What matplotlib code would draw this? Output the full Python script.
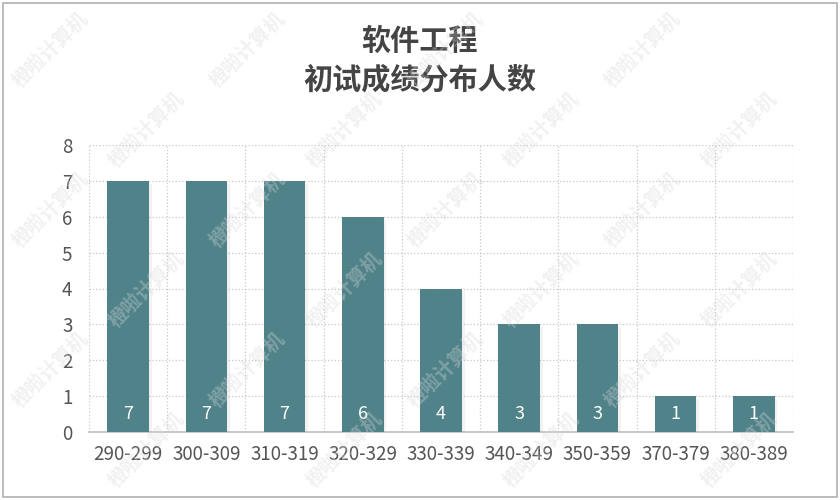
import matplotlib.pyplot as plt
from matplotlib.patches import Rectangle
import matplotlib.patheffects as pe

plt.rcParams['font.family'] = ['Noto Sans CJK SC', 'DejaVu Sans']

# 数据
categories = ['290-299', '300-309', '310-319', '320-329', '330-339',
              '340-349', '350-359', '370-379', '380-389']
counts = [7, 7, 7, 6, 4, 3, 3, 1, 1]
title_lines = ['软件工程', '初试成绩分布人数']
watermark = '橙啦计算机'

bar_color = '#508389'

fig = plt.figure(figsize=(8.4, 5), dpi=100)
ax = fig.add_axes([0.106, 0.136, 0.838, 0.574])

x = list(range(len(categories)))
bars = ax.bar(x, counts, width=0.53, color=bar_color, zorder=3,
              path_effects=[pe.SimplePatchShadow(offset=(2, -2), shadow_rgbFace='#aaaaaa', alpha=0.15),
                            pe.Normal()])

for xi, v in zip(x, counts):
    ax.text(xi, 0.5, str(v), ha='center', va='center', color='white',
            fontsize=13, zorder=4)

ax.set_xlim(-0.5, len(categories) - 0.5)
ax.set_ylim(0, 8)
ax.set_yticks(range(0, 9))
ax.set_xticks(x)
ax.set_xticklabels(categories)
ax.set_xticks([i + 0.5 for i in range(-1, len(categories))], minor=True)

ax.tick_params(axis='both', which='both', length=0, colors='#555555', labelsize=13.5)
ax.tick_params(axis='y', pad=12)
ax.tick_params(axis='x', pad=9)

ax.grid(axis='y', which='major', linestyle=':', color='#c8c8c8', linewidth=0.9, zorder=0)
ax.grid(axis='x', which='minor', linestyle=':', color='#c8c8c8', linewidth=0.9, zorder=0)

for s in ['top', 'right', 'left']:
    ax.spines[s].set_visible(False)
ax.spines['bottom'].set_color('#bfbfbf')
ax.spines['bottom'].set_linewidth(1.2)

fig.text(0.5, 0.918, title_lines[0], ha='center', va='center', fontsize=21,
         fontweight='bold', color='#444444')
fig.text(0.5, 0.842, title_lines[1], ha='center', va='center', fontsize=21,
         fontweight='bold', color='#444444')

# 外框
fig.patches.append(Rectangle((0.004, 0.006), 0.992, 0.988, transform=fig.transFigure,
                             fill=False, edgecolor='#b0b0b0', linewidth=1.2))

# 水印（只放在画面内部）
for row in range(0, 6):
    for col in range(0, 5):
        wx = col * 0.235 + (row % 2) * 0.115 + 0.06
        wy = 0.9 - row * 0.16
        if 0.06 <= wx <= 0.94 and 0.08 <= wy <= 0.92:
            fig.text(wx, wy, watermark, rotation=45, fontsize=14, fontweight='bold',
                     color='#d8d8d8', alpha=0.35, ha='center', va='center', zorder=10)

fig.savefig('out.png', dpi=100)
